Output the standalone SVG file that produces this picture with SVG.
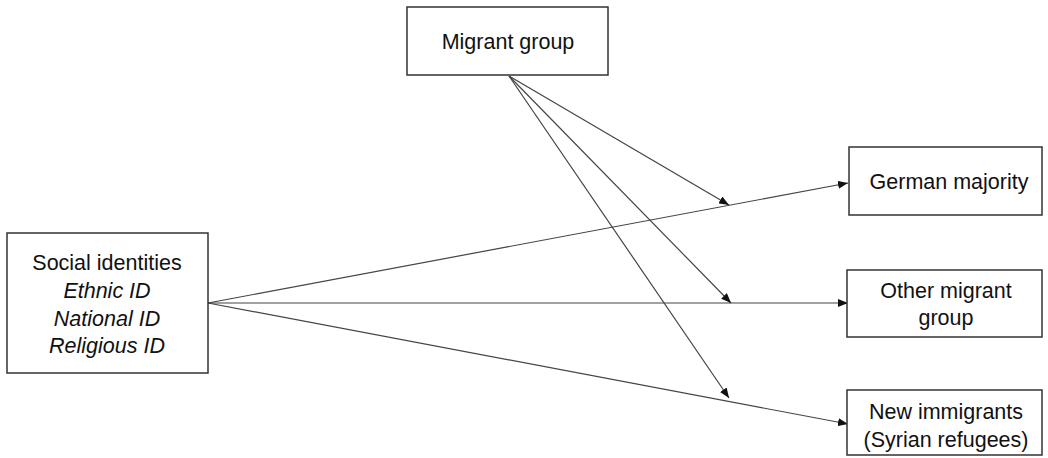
<svg xmlns="http://www.w3.org/2000/svg" width="1048" height="458" viewBox="0 0 1048 458">
<style>
.box{fill:#fff;stroke:#333;stroke-width:1.5}
.t{font-family:"Liberation Sans",Arial,sans-serif;font-size:21.5px;fill:#111;text-anchor:middle}
.i{font-style:italic}
.c{stroke:#444;stroke-width:1.2;fill:none;marker-end:url(#ah)}
</style>
<defs>
<marker id="ah" viewBox="0 0 10 8" refX="10" refY="4" markerWidth="10" markerHeight="8" markerUnits="userSpaceOnUse" orient="auto">
<path d="M0,0 L10,4 L0,8 z" fill="#111"/>
</marker>
</defs>
<g id="connectors">
<line class="c" x1="208" y1="303" x2="848" y2="183"/>
<line class="c" x1="208" y1="303" x2="848" y2="303"/>
<line class="c" x1="208" y1="303" x2="848" y2="424"/>
<line class="c" x1="509" y1="76" x2="729" y2="205"/>
<line class="c" x1="509" y1="76" x2="731" y2="303"/>
<line class="c" x1="509" y1="76" x2="729" y2="398"/>
</g>
<g id="migrant-group">
<rect class="box" x="407" y="7" width="201" height="68"/>
<text class="t" x="508" y="49">Migrant group</text>
</g>
<g id="social-identities">
<rect class="box" x="7" y="233" width="201" height="140"/>
<text class="t" x="107" y="270">Social identities</text>
<text class="t i" x="107" y="298">Ethnic ID</text>
<text class="t i" x="107" y="326">National ID</text>
<text class="t i" x="107" y="353">Religious ID</text>
</g>
<g id="german-majority">
<rect class="box" x="849" y="147" width="193" height="68"/>
<text class="t" x="949" y="189">German majority</text>
</g>
<g id="other-migrant-group">
<rect class="box" x="847" y="270" width="195" height="67"/>
<text class="t" x="946" y="298">Other migrant</text>
<text class="t" x="946" y="325">group</text>
</g>
<g id="new-immigrants">
<rect class="box" x="847" y="390" width="195" height="65"/>
<text class="t" x="946" y="419">New immigrants</text>
<text class="t" x="946" y="447">(Syrian refugees)</text>
</g>
</svg>
